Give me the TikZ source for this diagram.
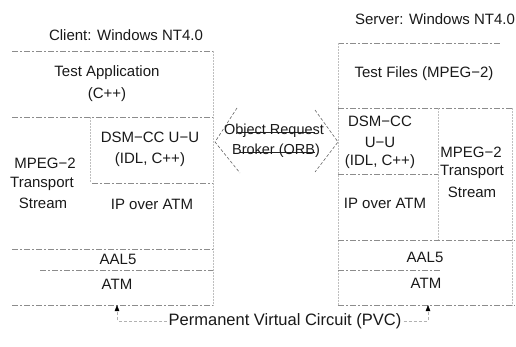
\documentclass[tikz,border=0pt]{standalone}
\usepackage{fontspec}
\setmainfont{Liberation Sans}
\usetikzlibrary{arrows.meta}
\begin{document}
\begin{tikzpicture}[x=1pt,y=-1pt,
  lbl/.style={font=\fontsize{15}{17}\selectfont, inner sep=0pt, text=black!90},
  rule/.style={draw=black!45, line width=0.6pt, dash pattern=on 6pt off 2pt on 2pt off 2pt},
  faint/.style={draw=black!25, line width=0.5pt, densely dotted},
  orbhead/.style={draw=black!60, line width=0.6pt, dash pattern=on 3pt off 2pt},
  orbshaft/.style={draw=black!85, line width=0.6pt},
  pvclink/.style={draw=black!30, line width=0.5pt, dash pattern=on 3pt off 2pt,
    -{Triangle[length=6pt,width=4.5pt,color=black]}}]

\useasboundingbox (0,0) rectangle (516,347);

% ---------------- client stack ----------------
\node[lbl] (ctitle) at (126,35) {Client: Windows NT4.0};
\draw[rule] (12,51) -- (213,51);
\node[lbl] (capp)  at (107,73) {Test Application};
\node[lbl] (capp2) at (107,95) {(C++)};
\draw[rule] (12,117) -- (213,117);
\draw[faint] (213,51) -- (213,305);
\draw[faint] (90,117) -- (90,183);
\node[lbl] (cdsm)  at (150,137) {DSM−CC U−U};
\node[lbl] (cidl)  at (150,160) {(IDL, C++)};
\node[lbl] (cmpeg) at (45,163) {MPEG−2};
\node[lbl] (ctrans) at (42,184) {Transport};
\node[lbl] (cstream) at (43,203) {Stream};
\draw[rule] (92,183) -- (213,183);
\node[lbl] (cip)   at (152,204) {IP over ATM};
\draw[rule] (12,249) -- (213,249);
\node[lbl] (caal)  at (118,259) {AAL5};
\draw[rule] (40,270) -- (213,270);
\node[lbl] (catm)  at (117,284) {ATM};
\draw[rule] (12,305) -- (213,305);
\coordinate (cvc) at (117,305);

% ---------------- server stack ----------------
\node[lbl] (stitle) at (435,19) {Server: Windows NT4.0};
\draw[rule] (338,43) -- (500,43);
\draw[faint] (338,43) -- (338,305);
\node[lbl] (sfiles) at (424,74) {Test Files (MPEG−2)};
\draw[rule] (338,108) -- (512,108);
\node[lbl] (sdsm)  at (380,121) {DSM−CC};
\node[lbl] (suu)   at (380,142) {U−U};
\node[lbl] (sidl)  at (380,162) {(IDL, C++)};
\draw[rule] (338,174) -- (438,174);
\draw[faint] (438,108) -- (438,240);
\node[lbl] (smpeg) at (471,152) {MPEG−2};
\node[lbl] (strans) at (472,172) {Transport};
\node[lbl] (sstream) at (472,192) {Stream};
\node[lbl] (sip)   at (385,203) {IP over ATM};
\draw[rule] (338,240) -- (515,240);
\draw[faint] (512,108) -- (512,305);
\node[lbl] (saal)  at (425,257) {AAL5};
\draw[rule] (338,270) -- (440,270);
\node[lbl] (satm)  at (426,283) {ATM};
\draw[rule] (338,305) -- (515,305);
\coordinate (svc) at (428,305);

% ---------------- ORB double arrow ----------------
\draw[orbshaft] (237,132) -- (315,132);
\draw[orbshaft] (240,152) -- (315,152);
\draw[orbhead] (237,108) -- (215,142) -- (240,173);
\draw[orbhead] (315,110) -- (338,142) -- (315,172);
\node[lbl, font=\fontsize{14.5}{16}\selectfont] (orb1) at (274,131) {Object Request};
\node[lbl, font=\fontsize{14.5}{16}\selectfont] (orb2) at (276,151) {Broker (ORB)};

% ---------------- permanent virtual circuit ----------------
\node[lbl, font=\fontsize{16.5}{18}\selectfont, fill=white, inner sep=2pt] (pvc) at (285,321) {Permanent Virtual Circuit (PVC)};
\draw[pvclink] (pvc.west) -| (cvc);
\draw[pvclink] (pvc.east) -| (svc);
\end{tikzpicture}
\end{document}
